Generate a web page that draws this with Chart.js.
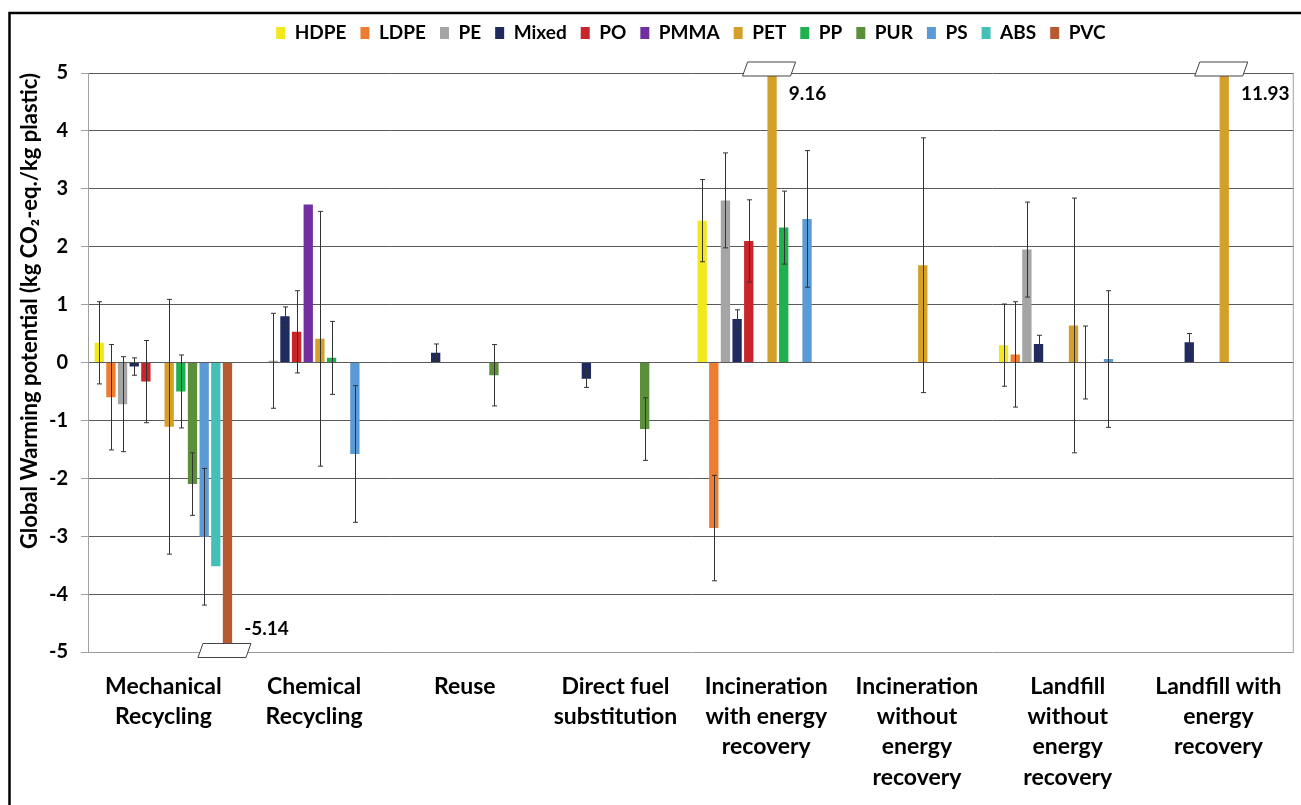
<!DOCTYPE html>
<html>
<head>
<meta charset="utf-8">
<script src="https://cdn.jsdelivr.net/npm/chart.js@4"></script>
<style>
  body { margin: 0; background: #fff; }
  canvas { display: block; }
</style>
</head>
<body>
<canvas id="gwp-chart" width="1301" height="805"></canvas>
<script>
// categories (x axis)
const categories = [
  ['Mechanical', 'Recycling'],
  ['Chemical', 'Recycling'],
  ['Reuse'],
  ['Direct fuel', 'substitution'],
  ['Incineration', 'with energy', 'recovery'],
  ['Incineration', 'without', 'energy', 'recovery'],
  ['Landfill', 'without', 'energy', 'recovery'],
  ['Landfill with', 'energy', 'recovery'],
];

// y axis ticks
const yTicks = [-5, -4, -3, -2, -1, 0, 1, 2, 3, 4, 5];

// values per plastic, in category order
const hdpe  = [0.34, null, null, null, 2.45, null, 0.30, null];
const ldpe  = [-0.60, null, null, null, -2.86, null, 0.14, null];
const pe    = [-0.72, 0.03, null, null, 2.80, null, 1.95, null];
const mixed = [-0.07, 0.80, 0.17, -0.28, 0.75, null, 0.32, 0.35];
const po    = [-0.33, 0.53, null, null, 2.10, null, null, null];
const pmma  = [null, 2.73, null, null, null, null, null, null];
const pet   = [-1.11, 0.41, null, null, 9.16, 1.68, 0.64, 11.93];
const pp    = [-0.50, 0.08, null, null, 2.33, null, 0.00, null];
const pur   = [-2.10, null, -0.22, -1.15, null, null, null, null];
const ps    = [-3.01, -1.58, null, null, 2.48, null, 0.06, null];
const abs   = [-3.52, null, null, null, null, null, null, null];
const pvc   = [-5.14, null, null, null, null, null, null, null];

// error bar half-lengths
const hdpeErr  = [0.71, null, null, null, 0.71, null, 0.71, null];
const ldpeErr  = [0.91, null, null, null, 0.91, null, 0.91, null];
const peErr    = [0.82, 0.82, null, null, 0.82, null, 0.82, null];
const mixedErr = [0.15, 0.16, 0.15, 0.15, 0.16, null, 0.15, 0.15];
const poErr    = [0.71, 0.71, null, null, 0.71, null, null, null];
const petErr   = [2.2, 2.2, null, null, null, 2.2, 2.2, null];
const ppErr    = [0.63, 0.63, null, null, 0.63, null, 0.63, null];
const purErr   = [0.54, null, 0.53, 0.54, null, null, null, null];
const psErr    = [1.18, 1.18, null, null, 1.18, null, 1.18, null];

const series = [
  { label: 'HDPE',  data: hdpe,  err: hdpeErr,  color: '#f2e81a' },
  { label: 'LDPE',  data: ldpe,  err: ldpeErr,  color: '#ed7d31' },
  { label: 'PE',    data: pe,    err: peErr,    color: '#a5a5a5' },
  { label: 'Mixed', data: mixed, err: mixedErr, color: '#1f2a5e' },
  { label: 'PO',    data: po,    err: poErr,    color: '#c9252b' },
  { label: 'PMMA',  data: pmma,  err: null,     color: '#7030a0' },
  { label: 'PET',   data: pet,   err: petErr,   color: '#d4a02a' },
  { label: 'PP',    data: pp,    err: ppErr,    color: '#1fb050' },
  { label: 'PUR',   data: pur,   err: purErr,   color: '#5b8f3a' },
  { label: 'PS',    data: ps,    err: psErr,    color: '#5b9bd5' },
  { label: 'ABS',   data: abs,   err: null,     color: '#45c0b8' },
  { label: 'PVC',   data: pvc,   err: null,     color: '#b85a30' },
];

Chart.defaults.font.family = 'Lato, "Open Sans", sans-serif';
Chart.defaults.font.weight = 'bold';
Chart.defaults.color = '#000';

// frame around the figure + right border of plot area
const framePlugin = {
  id: 'frame',
  beforeDraw(chart) {
    const ctx = chart.ctx;
    ctx.save();
    ctx.fillStyle = '#fff';
    ctx.fillRect(0, 0, chart.width, chart.height);
    ctx.strokeStyle = '#000';
    ctx.lineWidth = 2.5;
    ctx.beginPath();
    ctx.moveTo(9.5, chart.height + 5);
    ctx.lineTo(9.5, 13);
    ctx.lineTo(chart.width + 5, 13);
    ctx.stroke();
    ctx.restore();
  },
  afterDraw(chart) {
    const a = chart.chartArea;
    const ctx = chart.ctx;
    ctx.save();
    ctx.strokeStyle = '#a0a0a0';
    ctx.lineWidth = 1;
    ctx.beginPath();
    ctx.moveTo(a.right - 0.5, a.top);
    ctx.lineTo(a.right - 0.5, a.bottom);
    ctx.stroke();
    ctx.restore();
  }
};

// error bars and axis-break markers
const errorPlugin = {
  id: 'errorBars',
  afterDatasetsDraw(chart) {
    const ctx = chart.ctx;
    const y = chart.scales.y;
    ctx.save();
    chart.data.datasets.forEach((ds, di) => {
      const meta = chart.getDatasetMeta(di);
      meta.data.forEach((bar, i) => {
        const v = ds.data[i];
        if (v === null) return;
        const e = ds.err ? ds.err[i] : null;
        if (e !== null && e !== undefined) {
          const x = Math.round(bar.x) + 0.5;
          const y1 = y.getPixelForValue(v + e);
          const y2 = y.getPixelForValue(v - e);
          ctx.strokeStyle = '#333';
          ctx.lineWidth = 1;
          ctx.beginPath();
          ctx.moveTo(x, y1); ctx.lineTo(x, y2);
          ctx.moveTo(x - 2.5, y1); ctx.lineTo(x + 2.5, y1);
          ctx.moveTo(x - 2.5, y2); ctx.lineTo(x + 2.5, y2);
          ctx.stroke();
        }
        if (v > y.max || v < y.min) {
          const top = v > y.max;
          const cy = top ? y.top - 4 : y.bottom - 1.5;
          const cx = bar.x - 3;
          const w = 48, h = 14, sk = 5;
          ctx.fillStyle = '#fff';
          ctx.strokeStyle = '#444';
          ctx.lineWidth = 1;
          ctx.beginPath();
          ctx.moveTo(cx - w / 2 + sk / 2, cy - h / 2);
          ctx.lineTo(cx + w / 2 + sk / 2, cy - h / 2);
          ctx.lineTo(cx + w / 2 - sk / 2, cy + h / 2);
          ctx.lineTo(cx - w / 2 - sk / 2, cy + h / 2);
          ctx.closePath();
          ctx.fill();
          ctx.stroke();
          ctx.fillStyle = '#000';
          ctx.font = 'bold 19px Lato, sans-serif';
          ctx.textAlign = 'left';
          ctx.textBaseline = 'middle';
          ctx.fillText(v.toFixed(2), bar.x + bar.width / 2 + 12, top ? y.top + 21 : y.bottom - 23);
        }
      });
    });
    ctx.restore();
  }
};

new Chart(document.getElementById('gwp-chart'), {
  type: 'bar',
  data: {
    labels: categories,
    datasets: series.map((s) => ({
      label: s.label,
      data: s.data,
      err: s.err,
      backgroundColor: s.color,
      borderWidth: 0,
      clip: 0,
      categoryPercentage: 0.928,
      barPercentage: 0.8,
    })),
  },
  options: {
    responsive: false,
    animation: false,
    layout: { padding: { top: 9.5, left: 0, right: 5, bottom: 0 } },
    plugins: {
      legend: {
        position: 'top',
        fullSize: false,
        weight: 3000,
        labels: {
          boxWidth: 9,
          boxHeight: 12,
          padding: 14,
          font: { size: 19, weight: 'bold' },
          color: '#000',
        },
      },
      title: {
        display: true,
        text: '',
        font: { size: 10 },
        padding: { top: 0, bottom: 8.5 },
      },
      tooltip: { enabled: false },
    },
    scales: {
      x: {
        grid: { display: false, drawTicks: false },
        border: { display: false },
        ticks: {
          autoSkip: false,
          maxRotation: 0,
          padding: 19,
          font: { size: 23, weight: 'bold', lineHeight: 1.32 },
          color: '#000',
        },
        afterFit(scale) { scale.height = 153; },
      },
      y: {
        min: yTicks[0],
        max: yTicks[yTicks.length - 1],
        afterBuildTicks(scale) { scale.ticks = yTicks.map((v) => ({ value: v })); },
        grid: {
          color: (c) => (c.tick && c.tick.value === -5 ? '#9a9a9a' : '#5a5a5a'),
          lineWidth: 1,
          tickLength: 7,
          tickColor: '#a0a0a0',
        },
        border: { display: true, color: '#a0a0a0', width: 1 },
        ticks: {
          padding: 13,
          font: { size: 20, weight: 'bold' },
          color: '#000',
        },
        title: {
          display: true,
          align: 'end',
          text: 'Global Warming potential (kg CO\u2082-eq./kg plastic)',
          font: { size: 22, weight: 'bold' },
          color: '#000',
          padding: { top: 17, bottom: 0 },
        },
        afterFit(scale) { scale.width = 88; },
      },
    },
  },
  plugins: [framePlugin, errorPlugin],
});
</script>
</body>
</html>
